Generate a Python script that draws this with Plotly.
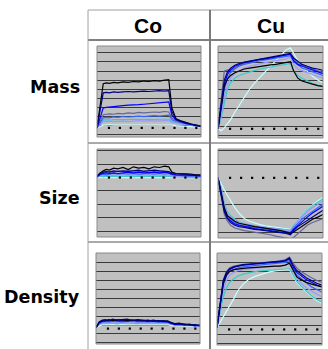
import plotly.graph_objects as go

W, H = 328, 349

# ---------------- data ----------------
X = [0, 3, 6, 9, 12, 16, 20, 25, 30, 35, 40, 45, 50, 55, 60, 65, 69, 72, 76, 80, 85, 90, 95, 100]
AXIS_TICKS = [11.5, 22, 32.5, 43, 53.5, 64, 74.5, 85, 95.5]
ROW_LABELS = ["Mass", "Size", "Density"]
COL_LABELS = ["Co", "Cu"]
SERIES = ["pale", "cyan", "lblue", "royal", "purple", "blue", "black", "navy"]
COLORS = {"black": "#000000", "navy": "#000080", "purple": "#666699", "blue": "#0000FF",
          "royal": "#3366FF", "lblue": "#9999FF", "cyan": "#33CCCC", "pale": "#CCFFFF"}

mass_co_black = [0, 2.4, 4.85, 4.95, 4.9, 5.0, 4.95, 5.05, 5.0, 5.1, 5.05, 5.15, 5.1, 5.2, 5.15, 5.25, 5.3, 2.2, 1.0, 0.8, 0.6, 0.45, 0.3, 0.2]
mass_co_navy = [0, 1.9, 3.85, 3.9, 3.85, 3.95, 3.9, 3.95, 4.0, 3.95, 4.0, 4.05, 4.0, 4.05, 4.1, 4.05, 4.1, 1.8, 0.95, 0.75, 0.55, 0.4, 0.3, 0.2]
mass_co_purple = [0, 0.7, 1.45, 1.5, 1.55, 1.5, 1.6, 1.55, 1.65, 1.6, 1.7, 1.65, 1.7, 1.75, 1.7, 1.8, 1.75, 1.1, 0.8, 0.65, 0.5, 0.35, 0.25, 0.15]
mass_co_blue = [0, 1.1, 2.2, 2.25, 2.3, 2.35, 2.4, 2.45, 2.5, 2.5, 2.55, 2.6, 2.65, 2.7, 2.7, 2.75, 2.85, 1.4, 0.9, 0.7, 0.5, 0.4, 0.3, 0.2]
mass_co_royal = [0, 0.5, 1.1, 1.15, 1.1, 1.2, 1.15, 1.25, 1.2, 1.25, 1.3, 1.25, 1.3, 1.35, 1.3, 1.35, 1.4, 0.9, 0.7, 0.6, 0.45, 0.35, 0.25, 0.15]
mass_co_lblue = [0, 0.35, 0.7, 0.7, 0.75, 0.7, 0.75, 0.75, 0.7, 0.75, 0.8, 0.75, 0.8, 0.75, 0.8, 0.8, 0.8, 0.6, 0.5, 0.45, 0.35, 0.3, 0.2, 0.15]
mass_co_cyan = [0, 0.45, 0.85, 0.9, 0.85, 0.9, 0.9, 0.85, 0.9, 0.95, 0.9, 0.9, 0.95, 0.9, 0.95, 0.95, 0.95, 0.7, 0.55, 0.5, 0.4, 0.3, 0.25, 0.15]
mass_co_pale = [0, 0.15, 0.3, 0.3, 0.35, 0.3, 0.3, 0.35, 0.3, 0.35, 0.3, 0.35, 0.35, 0.3, 0.35, 0.35, 0.35, 0.3, 0.25, 0.2, 0.2, 0.15, 0.1, 0.1]

mass_cu_black = [0, 2.4, 4.6, 5.4, 5.8, 6.1, 6.3, 6.5, 6.6, 6.7, 6.8, 6.85, 6.95, 7.0, 7.1, 7.2, 7.3, 6.3, 5.5, 5.2, 5.0, 4.85, 4.7, 4.6]
mass_cu_navy = [0, 3.0, 5.3, 6.2, 6.6, 6.9, 7.1, 7.25, 7.35, 7.5, 7.6, 7.7, 7.8, 7.85, 7.95, 8.05, 8.2, 7.7, 7.3, 7.0, 6.8, 6.6, 6.5, 6.35]
mass_cu_purple = [0, 3.0, 6.3, 6.4, 6.3, 6.6, 6.9, 7.1, 7.3, 7.4, 7.5, 7.6, 7.7, 7.8, 7.9, 8.0, 8.1, 7.6, 7.1, 6.9, 6.7, 6.5, 6.3, 6.1]
mass_cu_blue = [0, 2.5, 4.9, 5.9, 6.4, 6.8, 7.0, 7.2, 7.3, 7.45, 7.55, 7.6, 7.7, 7.75, 7.85, 7.95, 8.1, 7.4, 7.0, 6.8, 6.6, 6.4, 6.2, 6.0]
mass_cu_royal = [0, 2.0, 4.3, 5.5, 6.1, 6.5, 6.8, 7.0, 7.15, 7.3, 7.4, 7.5, 7.6, 7.65, 7.75, 7.85, 7.95, 7.3, 6.9, 6.6, 6.4, 6.2, 6.0, 5.8]
mass_cu_lblue = [0, 1.5, 3.5, 4.8, 5.5, 6.0, 6.3, 6.6, 6.8, 6.95, 7.1, 7.2, 7.3, 7.4, 7.5, 7.6, 7.8, 7.0, 6.5, 6.3, 6.1, 5.9, 5.7, 5.5]
mass_cu_cyan = [0, 1.2, 2.8, 4.3, 5.0, 5.5, 5.8, 6.0, 6.2, 6.35, 6.5, 6.6, 6.7, 6.8, 6.9, 7.0, 7.1, 6.3, 5.8, 5.5, 5.2, 4.95, 4.75, 4.55]
mass_cu_pale = [0, -0.2, 0.1, 0.5, 1.0, 1.8, 2.5, 3.5, 4.3, 5.0, 5.6, 6.2, 6.8, 7.4, 8.0, 8.6, 8.8, 8.2, 7.4, 6.8, 6.2, 5.7, 5.3, 5.0]

size_co_black = [0.1, 0.35, 0.5, 0.6, 0.55, 0.7, 0.65, 0.75, 0.6, 0.8, 0.7, 0.75, 0.65, 0.8, 0.75, 0.85, 0.8, 0.4, 0.3, 0.3, 0.25, 0.25, 0.2, 0.2]
size_co_navy = [0.1, 0.3, 0.4, 0.45, 0.4, 0.5, 0.45, 0.5, 0.45, 0.5, 0.55, 0.45, 0.5, 0.55, 0.5, 0.5, 0.45, 0.3, 0.3, 0.25, 0.25, 0.2, 0.2, 0.15]
size_co_purple = [0.1, 0.25, 0.35, 0.4, 0.45, 0.4, 0.5, 0.45, 0.55, 0.5, 0.45, 0.5, 0.55, 0.45, 0.5, 0.45, 0.4, 0.3, 0.25, 0.25, 0.2, 0.2, 0.15, 0.15]
size_co_blue = [0.05, 0.25, 0.3, 0.35, 0.3, 0.35, 0.3, 0.35, 0.4, 0.35, 0.4, 0.35, 0.4, 0.4, 0.35, 0.4, 0.35, 0.25, 0.2, 0.2, 0.15, 0.15, 0.15, 0.1]
size_co_royal = [0.05, 0.2, 0.25, 0.2, 0.25, 0.3, 0.25, 0.3, 0.25, 0.3, 0.25, 0.3, 0.3, 0.25, 0.3, 0.25, 0.3, 0.2, 0.15, 0.15, 0.1, 0.1, 0.1, 0.1]
size_co_lblue = [0.05, 0.15, 0.2, 0.15, 0.2, 0.15, 0.2, 0.2, 0.15, 0.2, 0.2, 0.15, 0.2, 0.15, 0.2, 0.2, 0.15, 0.1, 0.1, 0.1, 0.1, 0.05, 0.05, 0.05]
size_co_cyan = [0.0, 0.1, 0.05, 0.1, 0.05, 0.1, 0.05, 0.1, 0.1, 0.05, 0.1, 0.05, 0.1, 0.05, 0.1, 0.05, 0.1, 0.05, 0.05, 0.05, 0.0, 0.05, 0.0, 0.0]
size_co_pale = [0.0, 0.0, 0.05, 0.0, 0.05, 0.0, 0.05, 0.0, 0.05, 0.0, 0.05, 0.0, 0.0, 0.05, 0.0, 0.05, 0.0, 0.0, 0.0, 0.0, 0.0, 0.0, 0.0, 0.0]

size_cu_black = [0, -1.0, -2.2, -2.8, -3.0, -3.2, -3.35, -3.45, -3.5, -3.6, -3.65, -3.7, -3.75, -3.8, -3.9, -4.0, -4.1, -4.0, -3.8, -3.6, -3.3, -3.05, -2.9, -2.7]
size_cu_navy = [0, -1.2, -2.5, -3.0, -3.3, -3.5, -3.6, -3.65, -3.75, -3.8, -3.85, -3.9, -3.95, -4.0, -4.05, -4.1, -4.2, -3.9, -3.6, -3.4, -3.1, -2.85, -2.6, -2.4]
size_cu_purple = [0, -1.3, -2.7, -3.2, -3.5, -3.7, -3.8, -3.9, -3.95, -4.0, -4.1, -4.15, -4.2, -4.3, -4.35, -4.4, -4.5, -4.4, -4.1, -3.8, -3.5, -3.3, -3.15, -3.0]
size_cu_blue = [0, -1.1, -2.4, -3.0, -3.2, -3.4, -3.5, -3.6, -3.7, -3.75, -3.8, -3.85, -3.9, -3.95, -4.0, -4.05, -4.1, -3.8, -3.5, -3.2, -2.9, -2.6, -2.35, -2.1]
size_cu_royal = [0, -1.0, -2.3, -2.9, -3.1, -3.3, -3.45, -3.55, -3.6, -3.7, -3.75, -3.8, -3.85, -3.9, -3.95, -4.0, -4.0, -3.7, -3.35, -3.05, -2.75, -2.45, -2.2, -1.95]
size_cu_lblue = [0, -0.8, -2.0, -2.6, -2.9, -3.1, -3.3, -3.4, -3.5, -3.55, -3.6, -3.65, -3.7, -3.75, -3.8, -3.85, -3.9, -3.6, -3.2, -2.9, -2.5, -2.2, -1.95, -1.7]
size_cu_cyan = [0, -0.7, -1.9, -2.5, -2.8, -3.05, -3.25, -3.4, -3.5, -3.55, -3.6, -3.65, -3.7, -3.75, -3.8, -3.8, -3.85, -3.55, -3.15, -2.8, -2.4, -2.05, -1.8, -1.55]
size_cu_pale = [0, -0.5, -0.9, -1.3, -1.7, -2.2, -2.6, -3.0, -3.2, -3.35, -3.45, -3.55, -3.6, -3.65, -3.7, -3.75, -3.8, -3.6, -3.2, -2.8, -2.4, -2.0, -1.7, -1.45]

dens_co_black = [0.1, 0.7, 0.9, 0.85, 1.0, 0.9, 0.95, 1.0, 0.9, 0.95, 0.85, 0.9, 0.95, 0.85, 0.9, 0.8, 0.85, 0.65, 0.55, 0.6, 0.45, 0.5, 0.35, 0.4]
dens_co_navy = [0.1, 0.75, 0.95, 1.0, 0.9, 1.05, 0.95, 1.0, 1.05, 0.9, 1.0, 0.95, 0.85, 0.95, 0.85, 0.9, 0.8, 0.7, 0.5, 0.55, 0.5, 0.4, 0.45, 0.3]
dens_co_purple = [0.1, 0.6, 0.85, 0.9, 0.95, 0.85, 1.0, 0.9, 0.95, 1.0, 0.9, 0.85, 0.9, 0.9, 0.8, 0.85, 0.8, 0.6, 0.5, 0.45, 0.5, 0.4, 0.35, 0.35]
dens_co_blue = [0.1, 0.65, 0.8, 0.9, 0.85, 0.95, 0.85, 0.9, 0.85, 0.9, 0.95, 0.85, 0.8, 0.85, 0.8, 0.8, 0.75, 0.6, 0.45, 0.5, 0.4, 0.45, 0.3, 0.35]
dens_co_royal = [0.1, 0.55, 0.75, 0.8, 0.75, 0.8, 0.85, 0.75, 0.8, 0.85, 0.75, 0.8, 0.75, 0.8, 0.7, 0.75, 0.7, 0.55, 0.45, 0.4, 0.45, 0.35, 0.4, 0.3]
dens_co_lblue = [0.1, 0.5, 0.65, 0.7, 0.65, 0.7, 0.7, 0.65, 0.7, 0.75, 0.65, 0.7, 0.7, 0.65, 0.7, 0.65, 0.65, 0.5, 0.4, 0.4, 0.35, 0.35, 0.3, 0.3]
dens_co_cyan = [0.1, 0.45, 0.6, 0.55, 0.65, 0.6, 0.55, 0.6, 0.65, 0.6, 0.55, 0.6, 0.6, 0.55, 0.6, 0.55, 0.6, 0.5, 0.4, 0.45, 0.4, 0.35, 0.4, 0.3]
dens_co_pale = [0.1, 0.3, 0.4, 0.45, 0.4, 0.45, 0.4, 0.45, 0.4, 0.4, 0.45, 0.4, 0.4, 0.45, 0.4, 0.4, 0.4, 0.35, 0.3, 0.3, 0.3, 0.25, 0.25, 0.25]

dens_cu_black = [0.2, 2.8, 5.1, 6.0, 6.4, 6.6, 6.7, 6.75, 6.8, 6.85, 6.9, 6.9, 6.95, 7.0, 7.0, 7.1, 7.3, 6.6, 5.8, 5.5, 5.2, 5.0, 4.85, 4.7]
dens_cu_navy = [0.2, 3.0, 5.4, 6.3, 6.7, 6.9, 7.05, 7.15, 7.2, 7.25, 7.3, 7.35, 7.4, 7.45, 7.5, 7.6, 7.9, 7.2, 6.5, 6.1, 5.7, 5.4, 5.1, 4.9]
dens_cu_purple = [0.2, 3.1, 5.5, 6.4, 6.8, 7.0, 7.1, 7.2, 7.25, 7.3, 7.35, 7.4, 7.45, 7.5, 7.55, 7.7, 8.0, 7.4, 6.8, 6.4, 6.0, 5.7, 5.4, 5.2]
dens_cu_blue = [0.2, 2.9, 5.3, 6.2, 6.6, 6.85, 7.0, 7.1, 7.15, 7.2, 7.25, 7.3, 7.35, 7.4, 7.45, 7.55, 7.8, 7.0, 6.3, 5.9, 5.5, 5.2, 4.9, 4.7]
dens_cu_royal = [0.2, 2.6, 4.9, 5.9, 6.4, 6.6, 6.8, 6.9, 7.0, 7.05, 7.1, 7.15, 7.2, 7.25, 7.3, 7.4, 7.6, 6.8, 6.0, 5.6, 5.1, 4.7, 4.4, 4.1]
dens_cu_lblue = [0.2, 2.2, 4.3, 5.4, 6.0, 6.3, 6.5, 6.6, 6.7, 6.75, 6.8, 6.85, 6.9, 6.95, 7.0, 7.1, 7.3, 6.5, 5.7, 5.1, 4.6, 4.2, 3.9, 3.6]
dens_cu_cyan = [0.2, 1.8, 3.6, 4.6, 5.2, 5.6, 5.9, 6.1, 6.25, 6.35, 6.45, 6.5, 6.55, 6.6, 6.65, 6.7, 6.7, 6.1, 5.3, 4.8, 4.2, 3.7, 3.3, 3.0]
dens_cu_pale = [0.2, 0.8, 1.4, 1.9, 2.5, 3.4, 4.3, 5.0, 5.5, 5.8, 6.0, 6.2, 6.35, 6.45, 6.55, 6.6, 6.6, 6.0, 5.2, 4.7, 4.1, 3.6, 3.2, 2.9]

D = dict(globals())

# panel layout: (name, pixel box x0, x1, y0, y1, y-range, grid tick0, grid dtick)
PANELS = [
    ("mass_co", (97, 201, 46, 137), [-1, 9], 0.25, 1),
    ("mass_cu", (218, 323, 46, 138), [-1, 9], 0.25, 1),
    ("size_co", (97, 201, 149, 237), [-4.44, 2.13], 0, 1),
    ("size_cu", (218, 323, 149, 238), [-4.44, 2.13], 0, 1),
    ("dens_co", (96, 200, 253, 344), [-1.72, 8.44], 0.4, 1),
    ("dens_cu", (217, 322, 253, 345), [-1.72, 8.44], 0.4, 1),
]

BG = "#C0C0C0"
fig = go.Figure()
layout = dict(width=W, height=H, margin=dict(l=0, r=0, t=0, b=0),
              paper_bgcolor="white", plot_bgcolor=BG, showlegend=False)
shapes = []

for i, (name, (px0, px1, py0, py1), yr, t0, dt) in enumerate(PANELS):
    n = "" if i == 0 else str(i + 1)
    layout["xaxis" + n] = dict(domain=[px0 / W, px1 / W], range=[0, 100], showgrid=False,
                               zeroline=False, showticklabels=False, ticks="", showline=False,
                               anchor="y" + n, fixedrange=True)
    layout["yaxis" + n] = dict(domain=[1 - py1 / H, 1 - py0 / H], range=yr, showgrid=True,
                               gridcolor="#3a3a3a", gridwidth=1, tick0=t0, dtick=dt,
                               zeroline=True, zerolinecolor=BG, zerolinewidth=2,
                               showticklabels=False, ticks="", showline=False,
                               anchor="x" + n, fixedrange=True)
    for s in SERIES:
        fig.add_trace(go.Scatter(x=X, y=D[name + "_" + s], mode="lines",
                                 line=dict(color=COLORS[s], width=1.2),
                                 xaxis="x" + n, yaxis="y" + n, hoverinfo="skip"))
    fig.add_trace(go.Scatter(x=AXIS_TICKS, y=[0] * len(AXIS_TICKS), mode="markers",
                             marker=dict(symbol="square", size=2.2, color="#000000"),
                             xaxis="x" + n, yaxis="y" + n, hoverinfo="skip", cliponaxis=False))
    shapes.append(dict(type="rect", xref="x" + n + " domain", yref="y" + n + " domain",
                       x0=0, x1=1, y0=0, y1=1, line=dict(color="#8a8a8a", width=1),
                       fillcolor="rgba(0,0,0,0)", layer="above"))

# table grid lines (pixel positions)
def hline(y, x0, x1, color, width):
    shapes.append(dict(type="line", xref="paper", yref="paper", x0=x0 / W, x1=x1 / W,
                       y0=1 - y / H, y1=1 - y / H, line=dict(color=color, width=width)))

def vline(x, y0, y1, color, width):
    shapes.append(dict(type="line", xref="paper", yref="paper", x0=x / W, x1=x / W,
                       y0=1 - y0 / H, y1=1 - y1 / H, line=dict(color=color, width=width)))

hline(10, 88, 328, "#a0a0a0", 1)
hline(40, 88, 328, "#555555", 1.5)
hline(143, 88, 328, "#555555", 1)
hline(242, 88, 328, "#555555", 1)
vline(88, 10, 349, "#a0a0a0", 1)
vline(210, 10, 349, "#7a7a7a", 2)

layout["shapes"] = shapes

ann = []
for lab, cx in zip(COL_LABELS, [148, 271]):
    ann.append(dict(text="<b>" + lab + "</b>", x=cx / W, y=1 - 25.5 / H, xref="paper", yref="paper",
                    xanchor="center", yanchor="middle", showarrow=False,
                    font=dict(family="Liberation Sans, Arial, sans-serif", size=21, color="#000")))
for lab, cy in zip(ROW_LABELS, [86.5, 198, 297]):
    ann.append(dict(text="<b>" + lab + "</b>", x=82 / W, y=1 - cy / H, xref="paper", yref="paper",
                    xanchor="right", yanchor="middle", showarrow=False,
                    font=dict(family="DejaVu Sans, sans-serif", size=17.5, color="#000")))
layout["annotations"] = ann

fig.update_layout(**layout)
fig.write_html("out.html", config={"displayModeBar": False, "staticPlot": True},
               post_script="document.body.style.margin='0';document.body.style.overflow='hidden';")
